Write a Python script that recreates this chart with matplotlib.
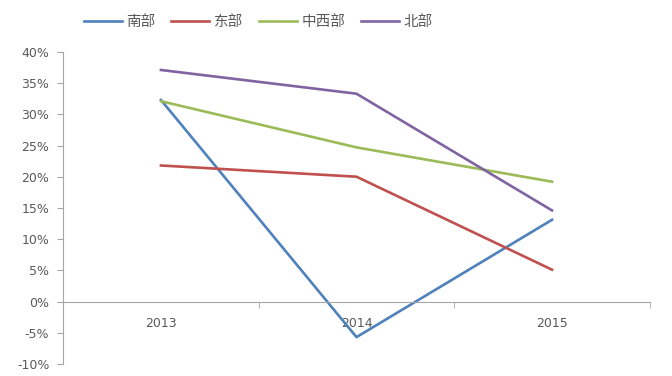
import numpy as np
import matplotlib.pyplot as plt
from matplotlib.ticker import FuncFormatter

plt.rcParams['font.family'] = ['Noto Sans CJK SC', 'DejaVu Sans']

# data
years = ['2013', '2014', '2015']
south = [32.3, -5.7, 13.1]      # 南部
east = [21.8, 20.0, 5.1]        # 东部
midwest = [32.1, 24.7, 19.2]    # 中西部
north = [37.1, 33.3, 14.6]      # 北部
series_names = ['南部', '东部', '中西部', '北部']
colors = ['#4F81BD', '#C0504D', '#9BBB59', '#8064A2']

fig = plt.figure(figsize=(6.72, 3.76), dpi=100)
ax = fig.add_axes([0.094, 0.032, 0.873, 0.830])

x = np.arange(len(years))
for vals, name, c in zip([south, east, midwest, north], series_names, colors):
    ax.plot(x, vals, color=c, lw=1.9, label=name)

ax.set_xlim(-0.5, 2.5)
ax.set_ylim(-10, 40)
ax.set_yticks(np.arange(-10, 41, 5))
ax.yaxis.set_major_formatter(FuncFormatter(lambda v, p: '%d%%' % v))

# excel-like axes
for s in ['top', 'right']:
    ax.spines[s].set_visible(False)
ax.spines['left'].set_color('#A6A6A6')
ax.spines['bottom'].set_color('#A6A6A6')
ax.spines['bottom'].set_position(('data', 0))

ax.set_xticks(x)
ax.set_xticklabels(years)
ax.set_xticks([-0.5, 0.5, 1.5, 2.5], minor=True)
ax.tick_params(axis='x', which='major', length=0, pad=11)
ax.tick_params(axis='x', which='minor', length=4, color='#A6A6A6', direction='out')
ax.tick_params(axis='y', length=4, color='#A6A6A6', direction='out', pad=6)
for lab in ax.get_xticklabels() + ax.get_yticklabels():
    lab.set_family('DejaVu Sans')
    lab.set_fontsize(9)
    lab.set_color('#595959')

fig.legend(loc='upper left', bbox_to_anchor=(0.105, 0.995), ncol=4, frameon=False,
           fontsize=10.5, handlelength=2.6, columnspacing=1.1, handletextpad=0.3,
           labelcolor='#595959')

fig.savefig('out.png', dpi=100)
